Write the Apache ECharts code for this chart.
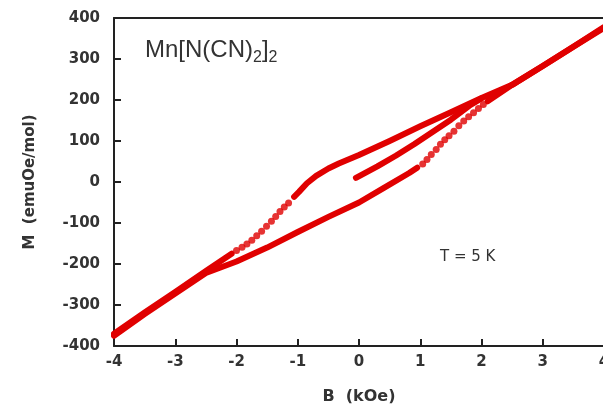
<!DOCTYPE html>
<html>
<head>
<meta charset="utf-8">
<script src="https://cdn.jsdelivr.net/npm/echarts@6/dist/echarts.min.js"></script>
<style>
  html, body { margin: 0; padding: 0; background: #fff; }
  #chart { width: 603px; height: 407px; }
</style>
</head>
<body>
<div id="chart"></div>
<script>
// B (kOe), M (emuOe/mol)

// virgin curve from zero field
const virginCurve = [
  [-0.05, 10], [0.3, 38], [0.6, 64], [0.9, 92], [1.2, 122], [1.5, 152], [1.8, 186], [2.0, 204]
];

// field going down from +4: dense part, sparse jump, dense tail
const upperDense = [
  [4.0, 378], [3.5, 330], [3.0, 283], [2.5, 237], [2.0, 205], [1.5, 170], [1.0, 136],
  [0.5, 100], [0.0, 66], [-0.33, 45], [-0.5, 33], [-0.7, 15], [-0.85, -3], [-0.98, -24], [-1.06, -36]
];
const upperJump = [
  [-1.15, -51], [-1.22, -61], [-1.29, -72], [-1.36, -84], [-1.43, -96], [-1.51, -108],
  [-1.59, -120], [-1.67, -131], [-1.75, -142], [-1.83, -151], [-1.91, -159], [-2.0, -167]
];
const upperTail = [
  [-2.08, -175], [-2.5, -217], [-3.0, -268], [-3.5, -318], [-4.0, -370]
];

// field going up from -4
const lowerDense = [
  [-4.0, -375], [-3.5, -322], [-3.0, -272], [-2.5, -222], [-2.0, -194], [-1.5, -160],
  [-1.0, -122], [-0.5, -85], [0.0, -50], [0.4, -15], [0.82, 22], [0.95, 35]
];
const lowerJump = [
  [1.04, 44], [1.11, 55], [1.18, 67], [1.26, 79], [1.33, 92], [1.4, 103], [1.47, 113],
  [1.55, 124], [1.63, 137], [1.71, 149], [1.79, 159], [1.87, 169], [1.95, 179], [2.03, 189]
];
const lowerTail = [
  [2.1, 197], [2.5, 237], [3.0, 283], [3.5, 330], [4.0, 376]
];

const xTicks = { min: -4, max: 4, step: 1 };
const yTicks = { min: -400, max: 400, step: 100 };

const red = '#e00000';
const textColor = '#333';

const chart = echarts.init(document.getElementById('chart'), null, { renderer: 'canvas' });

const lineSeries = data => ({
  type: 'line',
  data: data,
  showSymbol: false,
  symbol: 'none',
  lineStyle: { color: red, width: 6, cap: 'round', join: 'round' },
  silent: true,
  z: 3
});

const dotSeries = data => ({
  type: 'scatter',
  data: data,
  symbol: 'circle',
  symbolSize: 7,
  itemStyle: { color: red },
  silent: true,
  z: 3
});

const axisLabelStyle = {
  color: textColor,
  fontFamily: 'DejaVu Sans',
  fontWeight: 'bold',
  fontSize: 15
};

chart.setOption({
  animation: false,
  grid: {
    left: 114, right: -1, top: 18, bottom: 61,
    containLabel: false,
    outerBoundsMode: 'none'
  },
  xAxis: [
    {
      type: 'value',
      min: xTicks.min,
      max: xTicks.max,
      interval: xTicks.step,
      name: 'B  (kOe)',
      nameLocation: 'middle',
      nameGap: 43,
      nameTextStyle: { ...axisLabelStyle, fontSize: 16 },
      axisLine: { show: true, onZero: false, lineStyle: { color: '#222', width: 2 } },
      axisTick: { show: true, inside: true, length: 7, lineStyle: { color: '#222', width: 2 } },
      axisLabel: { ...axisLabelStyle, margin: 9 },
      splitLine: { show: false }
    },
    {
      type: 'value',
      position: 'top',
      min: xTicks.min,
      max: xTicks.max,
      axisLine: { show: true, onZero: false, lineStyle: { color: '#222', width: 2 } },
      axisTick: { show: false },
      axisLabel: { show: false },
      splitLine: { show: false }
    }
  ],
  yAxis: {
    type: 'value',
    min: yTicks.min,
    max: yTicks.max,
    interval: yTicks.step,
    name: 'M  (emuOe/mol)',
    nameLocation: 'middle',
    nameGap: 76,
    nameRotate: 90,
    nameTextStyle: { ...axisLabelStyle, fontSize: 15 },
    axisLine: { show: true, onZero: false, lineStyle: { color: '#222', width: 2 } },
    axisTick: { show: true, inside: true, length: 7, lineStyle: { color: '#222', width: 2 } },
    axisLabel: { ...axisLabelStyle, margin: 14 },
    splitLine: { show: false }
  },
  graphic: [
    {
      type: 'text',
      left: 145,
      top: 34,
      style: {
        text: 'Mn[N(CN){sub|2}]{sub|2}',
        fill: textColor,
        font: '24px "Liberation Sans", Arial, sans-serif',
        lineHeight: 32,
        rich: {
          sub: {
            fontSize: 16,
            fontFamily: 'Liberation Sans',
            fill: textColor,
            verticalAlign: 'bottom',
            lineHeight: 10
          }
        }
      }
    },
    {
      type: 'text',
      left: 440,
      top: 250,
      style: {
        text: 'T = 5 K',
        fill: textColor,
        font: '15px "DejaVu Sans", sans-serif'
      }
    }
  ],
  series: [
    lineSeries(virginCurve),
    lineSeries(upperDense),
    dotSeries(upperJump),
    lineSeries(upperTail),
    lineSeries(lowerDense),
    dotSeries(lowerJump),
    lineSeries(lowerTail)
  ]
});
</script>
</body>
</html>
